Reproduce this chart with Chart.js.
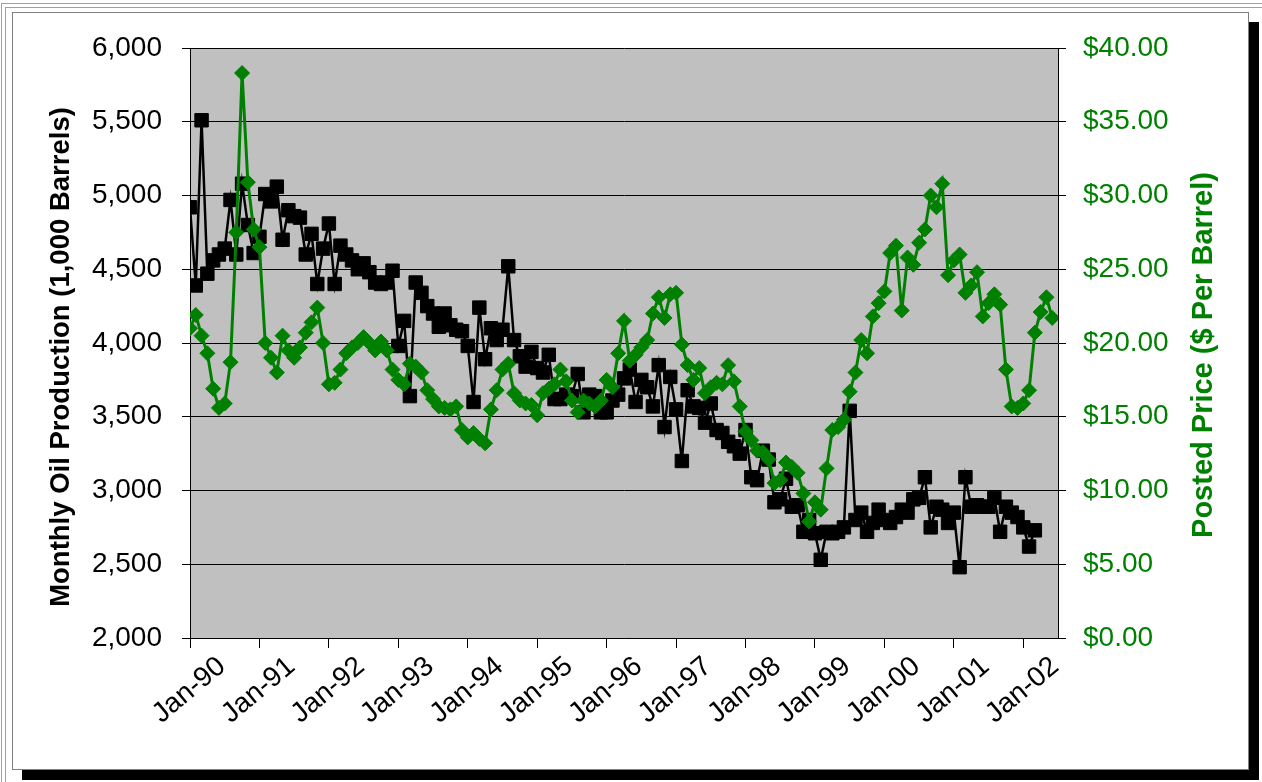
<!DOCTYPE html>
<html>
<head>
<meta charset="utf-8">
<script src="https://cdn.jsdelivr.net/npm/chart.js@4.4.1/dist/chart.umd.min.js"></script>
<style>
  html, body { margin: 0; padding: 0; background: #fff; }
  body { width: 1262px; height: 782px; position: relative; overflow: hidden; }
  .cell1 { position: absolute; left: 1px; top: 3px; right: -10px; bottom: -10px; border-top: 1px solid #a0a0a0; border-left: 1px solid #a0a0a0; }
  .cell2 { position: absolute; left: 5px; top: 7px; right: -10px; bottom: -10px; border-top: 1px solid #a0a0a0; border-left: 1px solid #a0a0a0; }
  .box { position: absolute; left: 12px; top: 12px; width: 1235px; height: 756px; background: #fff; border: 1px solid #808080; box-shadow: 10px 10px 0 #000; }
  #chart { position: absolute; left: 0; top: 0; }
</style>
</head>
<body>
<div class="cell1"></div>
<div class="cell2"></div>
<div class="box"></div>
<canvas id="chart" width="1262" height="782"></canvas>
<script>
const tickLabels = ['Jan-90', 'Jan-91', 'Jan-92', 'Jan-93', 'Jan-94', 'Jan-95', 'Jan-96',
  'Jan-97', 'Jan-98', 'Jan-99', 'Jan-00', 'Jan-01', 'Jan-02']

// monthly oil production, 1,000 barrels (Jan-90 .. Mar-02)
const production = [
  4920, 4390, 5510, 4470, 4560, 4600, 4640, 4970, 4600, 5080, 4800, 4610,
  4720, 5010, 4960, 5060, 4700, 4900, 4860, 4850, 4600, 4740, 4400, 4640,
  4810, 4400, 4660, 4600, 4560, 4500, 4540, 4480, 4410, 4400, 4410, 4490,
  3980, 4150, 3640, 4410, 4340, 4250, 4200, 4110, 4200, 4120, 4090, 4080,
  3980, 3600, 4240, 3890, 4100, 4020, 4090, 4520, 4020, 3910, 3840, 3940,
  3830, 3800, 3920, 3620, 3620, 3650, 3640, 3790, 3530, 3650, 3640, 3530,
  3530, 3610, 3650, 3760, 3820, 3600, 3750, 3700, 3570, 3850, 3430, 3770,
  3550, 3200, 3680, 3570, 3560, 3460, 3590, 3410, 3390, 3330, 3300, 3250,
  3410, 3090, 3070, 3270, 3210, 2920, 2940, 3080, 2890, 2900, 2720, 2800,
  2710, 2530, 2720, 2710, 2720, 2750, 3540, 2800, 2850, 2720, 2780, 2870,
  2800, 2780, 2820, 2870, 2850, 2940, 2950, 3090, 2750, 2890, 2870, 2780,
  2850, 2480, 3090, 2890, 2900, 2890, 2890, 2950, 2720, 2890, 2850, 2820,
  2750, 2620, 2730
]

// posted price, $ per barrel (Jan-90 .. Jun-02)
const price = [
  21.0, 21.9, 20.5, 19.3, 16.9, 15.6, 15.9, 18.7, 27.5, 38.3, 30.9, 27.7,
  26.5, 20.0, 19.0, 18.0, 20.5, 19.5, 19.0, 19.7, 20.7, 21.4, 22.4, 20.0,
  17.2, 17.3, 18.2, 19.3, 19.7, 20.0, 20.4, 20.0, 19.5, 20.1, 19.5, 18.2,
  17.5, 17.2, 18.6, 18.4, 18.0, 16.8, 16.2, 15.7, 15.6, 15.5, 15.7, 14.1,
  13.6, 13.9, 13.5, 13.2, 15.5, 16.8, 18.2, 18.6, 16.6, 16.1, 15.9, 15.8,
  15.1, 16.6, 16.9, 17.2, 18.2, 17.4, 16.1, 15.3, 16.1, 15.9, 15.7, 16.1,
  17.5, 17.0, 19.3, 21.5, 18.8, 19.2, 19.7, 20.2, 22.0, 23.1, 21.7, 23.3,
  23.4, 19.9, 18.5, 17.5, 18.3, 16.6, 17.0, 17.3, 17.2, 18.5, 17.4, 15.7,
  14.0, 13.4, 12.7, 12.6, 12.1, 10.5, 10.7, 11.9, 11.6, 11.2, 9.8, 7.9,
  9.2, 8.7, 11.5, 14.1, 14.3, 14.8, 16.7, 18.0, 20.2, 19.3, 21.8, 22.7,
  23.5, 26.1, 26.6, 22.2, 25.8, 25.3, 26.8, 27.7, 30.0, 29.2, 30.8, 24.6,
  25.6, 26.0, 23.4, 23.9, 24.8, 21.8, 22.7, 23.3, 22.6, 18.2, 15.7, 15.6,
  15.9, 16.8, 20.7, 22.1, 23.1, 21.7
]

const green = '#008000'
const fontFamily = 'Liberation Sans, Arial, sans-serif'
const tickFont = { family: fontFamily, size: 28 }
const leftTitle = 'Monthly Oil Production (1,000 Barrels)'
const rightTitle = 'Posted Price ($ Per Barrel)'

const plotBackground = {
  id: 'plotBackground',
  beforeDraw(chart) {
    const { ctx, chartArea } = chart
    ctx.save()
    ctx.fillStyle = '#c0c0c0'
    ctx.fillRect(chartArea.left, chartArea.top, chartArea.width, chartArea.height)
    ctx.restore()
  }
}

// both axis titles read bottom to top, so draw them by hand
function drawTitle(ctx, text, x, y, size, color) {
  ctx.save()
  ctx.translate(x, y)
  ctx.rotate(-Math.PI / 2)
  ctx.font = 'bold ' + size + 'px ' + fontFamily
  ctx.fillStyle = color
  ctx.textAlign = 'center'
  ctx.textBaseline = 'middle'
  ctx.fillText(text, 0, 0)
  ctx.restore()
}

const axisTitles = {
  id: 'axisTitles',
  afterDraw(chart) {
    drawTitle(chart.ctx, leftTitle, 61, 357, 27.5, '#000')
    drawTitle(chart.ctx, rightTitle, 1204, 355, 29, green)
  }
}

new Chart(document.getElementById('chart'), {
  type: 'line',
  data: {
    datasets: [{
      label: 'Posted Price',
      data: price.map((v, i) => ({ x: i, y: v })),
      yAxisID: 'y2',
      order: 0,
      borderColor: green,
      backgroundColor: green,
      borderWidth: 3,
      pointStyle: 'rectRot',
      pointRadius: 7.5,
      pointBorderWidth: 1,
      pointBackgroundColor: green,
      pointBorderColor: green
    }, {
      label: 'Monthly Oil Production',
      data: production.map((v, i) => ({ x: i, y: v })),
      yAxisID: 'y',
      order: 1,
      borderColor: '#000',
      backgroundColor: '#000',
      borderWidth: 2.5,
      pointStyle: 'rect',
      pointRadius: 9.5,
      pointBorderWidth: 1,
      pointBackgroundColor: '#000',
      pointBorderColor: '#000'
    }]
  },
  options: {
    responsive: false,
    animation: false,
    devicePixelRatio: 1,
    layout: {
      padding: { top: 48, left: 0, right: 0, bottom: 0 }
    },
    plugins: {
      legend: { display: false },
      tooltip: { enabled: false }
    },
    scales: {
      x: {
        type: 'linear',
        position: 'bottom',
        min: 0,
        max: 150,
        afterBuildTicks: scale => {
          scale.ticks = tickLabels.map((_, k) => ({ value: k * 12 }))
        },
        afterFit: scale => { scale.height = 144 },
        grid: {
          drawOnChartArea: false,
          drawTicks: true,
          tickLength: 10,
          color: '#000'
        },
        border: { color: '#000', width: 1 },
        ticks: {
          autoSkip: false,
          minRotation: 40,
          maxRotation: 40,
          labelOffset: 32,
          padding: 2,
          color: '#000',
          font: tickFont,
          callback: value => tickLabels[value / 12]
        }
      },
      y: {
        position: 'left',
        min: 2000,
        max: 6000,
        afterFit: scale => { scale.width = 190 },
        grid: {
          color: '#000',
          tickLength: 8
        },
        border: { color: '#000', width: 1 },
        ticks: {
          stepSize: 500,
          padding: 20,
          color: '#000',
          font: tickFont,
          callback: value => value.toLocaleString('en-US')
        }
      },
      y2: {
        position: 'right',
        min: 0,
        max: 40,
        afterFit: scale => { scale.width = 204 },
        grid: {
          drawOnChartArea: false,
          color: '#000',
          tickLength: 8
        },
        border: { color: '#000', width: 1 },
        ticks: {
          stepSize: 5,
          padding: 17,
          color: green,
          font: tickFont,
          callback: value => '$' + value.toFixed(2)
        }
      }
    }
  },
  plugins: [plotBackground, axisTitles]
})
</script>
</body>
</html>
